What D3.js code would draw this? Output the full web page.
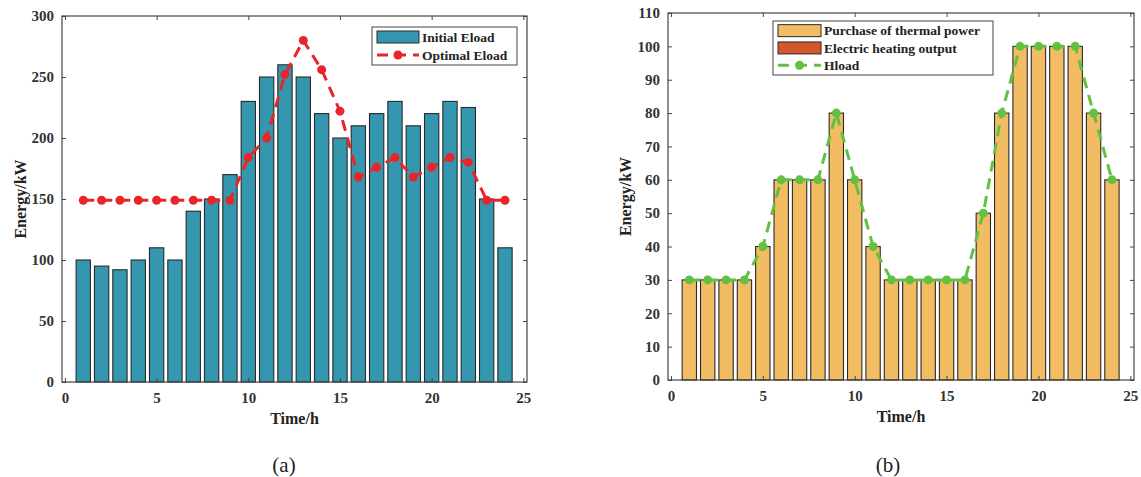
<!DOCTYPE html>
<html>
<head>
<meta charset="utf-8">
<script src="https://cdn.jsdelivr.net/npm/d3@7"></script>
<style>
  body { margin: 0; background: #fff; }
  text { font-family: "Liberation Serif", "Times New Roman", serif; }
</style>
</head>
<body>
<div id="chart"></div>
<script>
// hours 1..24
var hours = d3.range(1, 25);

// panel (a)
var initialEload = [100, 95, 92, 100, 110, 100, 140, 150, 170, 230, 250, 260,
                    250, 220, 200, 210, 220, 230, 210, 220, 230, 225, 150, 110];
var optimalEload = [149, 149, 149, 149, 149, 149, 149, 149, 149, 184, 200, 252,
                    280, 256, 222, 168, 176, 184, 168, 176, 184, 180, 149, 149];
var yTicksA = [0, 50, 100, 150, 200, 250, 300];

// panel (b)
var thermalPurchase = [30, 30, 30, 30, 40, 60, 60, 60, 80, 60, 40, 30,
                       30, 30, 30, 30, 50, 80, 100, 100, 100, 100, 80, 60];
var electricHeating = [0, 0, 0, 0, 0, 0, 0, 0, 0, 0, 0, 0,
                       0, 0, 0, 0, 0, 0, 0, 0, 0, 0, 0, 0];
var hload = [30, 30, 30, 30, 40, 60, 60, 60, 80, 60, 40, 30,
             30, 30, 30, 30, 50, 80, 100, 100, 100, 100, 80, 60];
var yTicksB = [0, 10, 20, 30, 40, 50, 60, 70, 80, 90, 100, 110];

var xTicks = [0, 5, 10, 15, 20, 25];

var teal = "#3596b0",
    orange = "#f2bd62",
    brick = "#d4562b",
    red = "#e8262a",
    green = "#62c043",
    frameColor = "#444";

var svg = d3.select("#chart").append("svg")
    .attr("width", 1141)
    .attr("height", 477);

function drawPanel(cfg) {
    var x = d3.scaleLinear().domain([-0.16, 25.2]).range([cfg.left, cfg.right]);
    var y = d3.scaleLinear().domain([0, cfg.yMax]).range([cfg.bottom, cfg.top]);
    var g = svg.append("g");
    var bw = (x(0.78) - x(0));

    // bars (stacked)
    var base = hours.map(function () { return 0; });
    cfg.bars.forEach(function (s) {
        g.selectAll(null)
            .data(hours)
            .enter().append("rect")
            .attr("x", function (d) { return x(d) - bw / 2; })
            .attr("width", bw)
            .attr("y", function (d, i) { return y(base[i] + s.values[i]); })
            .attr("height", function (d, i) { return y(base[i]) - y(base[i] + s.values[i]); })
            .style("fill", s.color)
            .style("stroke", "#2a2a2a")
            .style("stroke-width", 1.1)
            .style("display", function (d, i) { return s.values[i] > 0 ? null : "none"; });
        s.values.forEach(function (v, i) { base[i] += v; });
    });

    // line with markers
    var line = d3.line()
        .x(function (d, i) { return x(hours[i]); })
        .y(function (d) { return y(d); });
    g.append("path")
        .datum(cfg.line.values)
        .attr("d", line)
        .style("fill", "none")
        .style("stroke", cfg.line.color)
        .style("stroke-width", 3)
        .style("stroke-dasharray", "11,7");
    g.selectAll(null)
        .data(cfg.line.values)
        .enter().append("circle")
        .attr("cx", function (d, i) { return x(hours[i]); })
        .attr("cy", function (d) { return y(d); })
        .attr("r", 4.5)
        .style("fill", cfg.line.color);

    // frame
    g.append("rect")
        .attr("x", cfg.left)
        .attr("y", cfg.top)
        .attr("width", cfg.right - cfg.left)
        .attr("height", cfg.bottom - cfg.top)
        .style("fill", "none")
        .style("stroke", frameColor)
        .style("stroke-width", 1.2);

    // axes, inward ticks
    g.append("g")
        .attr("transform", "translate(0," + cfg.bottom + ")")
        .call(d3.axisBottom(x).tickValues(xTicks).tickSizeInner(-4).tickSizeOuter(0).tickPadding(10));
    g.append("g")
        .attr("transform", "translate(0," + cfg.top + ")")
        .call(d3.axisTop(x).tickValues(xTicks).tickSizeInner(-4).tickSizeOuter(0).tickFormat(""));
    g.append("g")
        .attr("transform", "translate(" + cfg.left + ",0)")
        .call(d3.axisLeft(y).tickValues(cfg.yTicks).tickSizeInner(-4).tickSizeOuter(0).tickPadding(8));
    g.append("g")
        .attr("transform", "translate(" + cfg.right + ",0)")
        .call(d3.axisRight(y).tickValues(cfg.yTicks).tickSizeInner(-4).tickSizeOuter(0).tickFormat(""));
    g.selectAll(".domain").remove();
    g.selectAll(".tick line").style("stroke", frameColor);
    g.selectAll(".tick text")
        .style("font-family", "'Liberation Serif', serif")
        .style("font-weight", "bold")
        .style("font-size", "15px")
        .style("fill", "#333");

    // axis titles
    g.append("text")
        .attr("x", (cfg.left + cfg.right) / 2)
        .attr("y", cfg.bottom + 42)
        .attr("text-anchor", "middle")
        .style("font-weight", "bold")
        .style("font-size", "16px")
        .style("fill", "#222")
        .text("Time/h");
    g.append("text")
        .attr("transform", "translate(" + cfg.yTitleX + "," + ((cfg.top + cfg.bottom) / 2) + ") rotate(-90)")
        .attr("text-anchor", "middle")
        .attr("dy", "0.35em")
        .style("font-weight", "bold")
        .style("font-size", "16px")
        .style("fill", "#222")
        .text("Energy/kW");

    // caption
    g.append("text")
        .attr("x", cfg.captionX)
        .attr("y", 472)
        .attr("text-anchor", "middle")
        .style("font-size", "21px")
        .style("fill", "#222")
        .text(cfg.caption);

    // legend
    var L = cfg.legend;
    g.append("rect")
        .attr("x", L.x).attr("y", L.y)
        .attr("width", L.w).attr("height", L.h)
        .style("fill", "#fff")
        .style("stroke", frameColor)
        .style("stroke-width", 1);
    L.items.forEach(function (it, k) {
        var cy = L.y + L.pad + L.rowH * (k + 0.5);
        if (it.type === "bar") {
            g.append("rect")
                .attr("x", L.x + 5).attr("y", cy - 6)
                .attr("width", L.sw).attr("height", 12)
                .style("fill", it.color)
                .style("stroke", "#2a2a2a")
                .style("stroke-width", 1);
        } else {
            g.append("line")
                .attr("x1", L.x + 5).attr("x2", L.x + 5 + L.sw)
                .attr("y1", cy).attr("y2", cy)
                .style("stroke", it.color)
                .style("stroke-width", 3)
                .style("stroke-dasharray", "11,7");
            g.append("circle")
                .attr("cx", L.x + 5 + L.sw / 2).attr("cy", cy)
                .attr("r", 4.5)
                .style("fill", it.color);
        }
        g.append("text")
            .attr("x", L.x + 8 + L.sw)
            .attr("y", cy)
            .attr("dy", "0.35em")
            .style("font-weight", "bold")
            .style("font-size", "13.5px")
            .style("fill", "#222")
            .text(it.label);
    });
}

drawPanel({
    left: 62, right: 527, top: 16, bottom: 382,
    yMax: 300, yTicks: yTicksA, yTitleX: 20,
    bars: [{values: initialEload, color: teal}],
    line: {values: optimalEload, color: red},
    caption: "(a)", captionX: 284,
    legend: {x: 372, y: 27, w: 145, h: 38, pad: 1, rowH: 18, sw: 42,
        items: [{type: "bar", color: teal, label: "Initial Eload"},
                {type: "line", color: red, label: "Optimal Eload"}]}
});

drawPanel({
    left: 668, right: 1134, top: 13, bottom: 380,
    yMax: 110, yTicks: yTicksB, yTitleX: 625,
    bars: [{values: thermalPurchase, color: orange},
           {values: electricHeating, color: brick}],
    line: {values: hload, color: green},
    caption: "(b)", captionX: 888,
    legend: {x: 773, y: 21, w: 220, h: 54, pad: 1, rowH: 17.3, sw: 43,
        items: [{type: "bar", color: orange, label: "Purchase of thermal power"},
                {type: "bar", color: brick, label: "Electric heating output"},
                {type: "line", color: green, label: "Hload"}]}
});
</script>
</body>
</html>
